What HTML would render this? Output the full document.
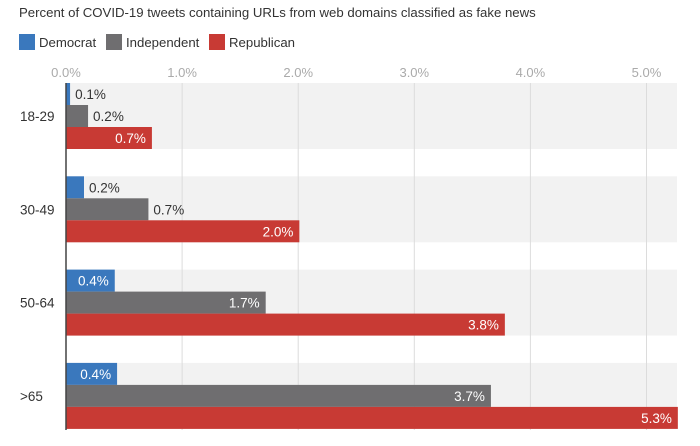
<!DOCTYPE html>
<html><head><meta charset="utf-8"><style>
body{margin:0;background:#fff;font-family:"Liberation Sans",sans-serif;}
svg text{font-family:"Liberation Sans",sans-serif;}
</style></head><body>
<svg id="c" width="700" height="441">
<text x="19" y="17" font-size="13.2" fill="#333">Percent of COVID-19 tweets containing URLs from web domains classified as fake news</text>
<g>
<rect x="19" y="34" width="16" height="16" fill="#3a78bd"/>
<text x="39" y="47" font-size="13.2" fill="#333">Democrat</text>
<rect x="106" y="34" width="16" height="16" fill="#6f6e70"/>
<text x="126" y="47" font-size="13.2" fill="#333">Independent</text>
<rect x="209" y="34" width="16" height="16" fill="#c83a34"/>
<text x="229" y="47" font-size="13.2" fill="#333">Republican</text>
</g>
</svg>
<script>
const categories=["18-29","30-49","50-64",">65"];
const democrat=[0.035,0.155,0.42,0.44];
const independent=[0.19,0.71,1.72,3.66];
const republican=[0.74,2.01,3.78,5.27];
const demLabels=["0.1%","0.2%","0.4%","0.4%"];
const indLabels=["0.2%","0.7%","1.7%","3.7%"];
const repLabels=["0.7%","2.0%","3.8%","5.3%"];
const ticks=[0,1,2,3,4,5];
const tickLabels=["0.0%","1.0%","2.0%","3.0%","4.0%","5.0%"];
const svg=document.getElementById('c');
const NS="http://www.w3.org/2000/svg";
const x0=66,pxPer=116.1;
const xs=v=>x0+v*pxPer;
const groupTop=i=>83+i*93.3;
const barH=22;
function mk(tag,attrs,parent){const e=document.createElementNS(NS,tag);for(const k in attrs)e.setAttribute(k,attrs[k]);(parent||svg).appendChild(e);return e;}
categories.forEach((c,i)=>{
 const b=mk('rect',{x:x0,y:groupTop(i),width:677-x0,height:barH*3,fill:'#f2f2f2'});
 
 
});
ticks.forEach((t,i)=>{
 if(t>0){const g=mk('line',{x1:xs(t),x2:xs(t),y1:83,y2:430,stroke:'#dcdcdc','stroke-width':1});
 
 }
 const tx=mk('text',{x:xs(t),y:77,'font-size':13,fill:'#aaa','text-anchor':'middle'});
 tx.textContent=tickLabels[i];
 
 
});
const series=[[democrat,demLabels,'#3a78bd',0.3],[independent,indLabels,'#6f6e70',1.0],[republican,repLabels,'#c83a34',0.3]];
categories.forEach((c,i)=>{
 const cl=mk('text',{x:20,y:groupTop(i)+barH*1.5+5,'font-size':13.5,fill:'#333'});
 cl.textContent=c;
 
 
 series.forEach((s,j)=>{
  const v=s[0][i],y=groupTop(i)+j*barH;
  const r=mk('rect',{x:x0,y:y,width:xs(v)-x0,height:barH,fill:s[2]});
  
  
  const inside=v>=s[3];
  const t=mk('text',{x:inside?xs(v)-6:xs(v)+5,y:y+16,'font-size':13.5,fill:inside?'#fff':'#333','text-anchor':inside?'end':'start'});
  t.textContent=s[1][i];
  
  
 });
});
const ax=mk('line',{x1:x0,x2:x0,y1:83,y2:430,stroke:'#444','stroke-width':1.5});


</script>
</body></html>
